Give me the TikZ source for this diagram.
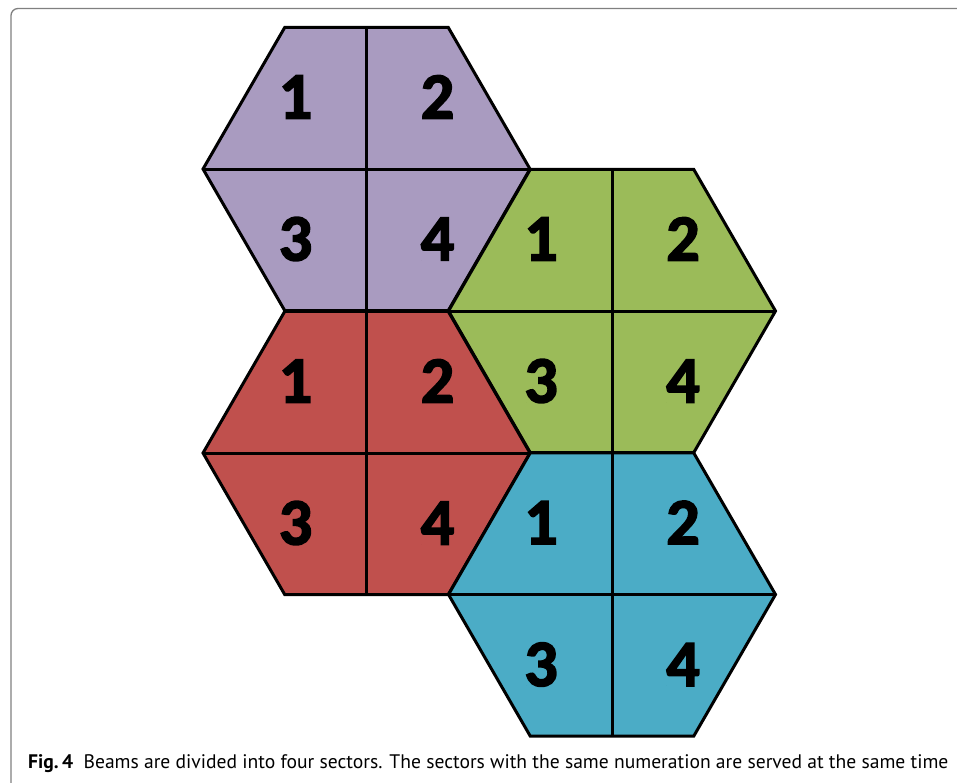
\documentclass[tikz,border=0pt]{standalone}
\usepackage{fontspec}
\setmainfont{Carlito}
\newfontfamily\digitfont{Carlito}[BoldFeatures={FakeBold=2.5}]
\newfontfamily\capfont{PT Sans}
\definecolor{hexpurple}{HTML}{A99BC0}
\definecolor{hexred}{HTML}{C0504D}
\definecolor{hexgreen}{HTML}{9BBB59}
\definecolor{hexblue}{HTML}{4BACC6}
\definecolor{framegray}{HTML}{808080}
\tikzset{
  hexedge/.style={draw=black, line width=3pt, line join=miter},
  digit/.style={font=\digitfont\fontsize{66}{66}\selectfont\bfseries, inner sep=0pt},
  pics/hexbeam/.style={code={
    \path[hexedge, fill=#1] (-163.5,0) -- (-81.75,-141.6) -- (81.75,-141.6)
      -- (163.5,0) -- (81.75,141.6) -- (-81.75,141.6) -- cycle;
    \draw[hexedge] (-163.5,0) -- (163.5,0);
    \draw[hexedge] (0,-141.6) -- (0,141.6);
    \node[digit] (-n1) at (-71,-72) {1};
    \node[digit] (-n2) at (71,-72) {2};
    \node[digit] (-n3) at (-71,70) {3};
    \node[digit] (-n4) at (71,70) {4};
  }}
}
\begin{document}
\begin{tikzpicture}[x=1pt,y=-1pt]
\useasboundingbox (0,0) rectangle (957,782);
\clip (0,0) rectangle (957,782);
\draw[framegray, line width=1.3pt, rounded corners=7pt] (11,8.5) rectangle (1000,820);
\pic (purple) at (366.5,169) {hexbeam=hexpurple};
\pic (green) at (612,311) {hexbeam=hexgreen};
\pic (red) at (366.5,453) {hexbeam=hexred};
\pic (blue) at (612,594.5) {hexbeam=hexblue};
\node[anchor=base west, inner sep=0pt, font=\capfont\fontsize{19.6}{22}\selectfont] (caption) at (28,768.5)
  {\textbf{Fig.\,4}\ \ Beams are divided into four sectors. The sectors with the same numeration are served at the same time};
\end{tikzpicture}
\end{document}
